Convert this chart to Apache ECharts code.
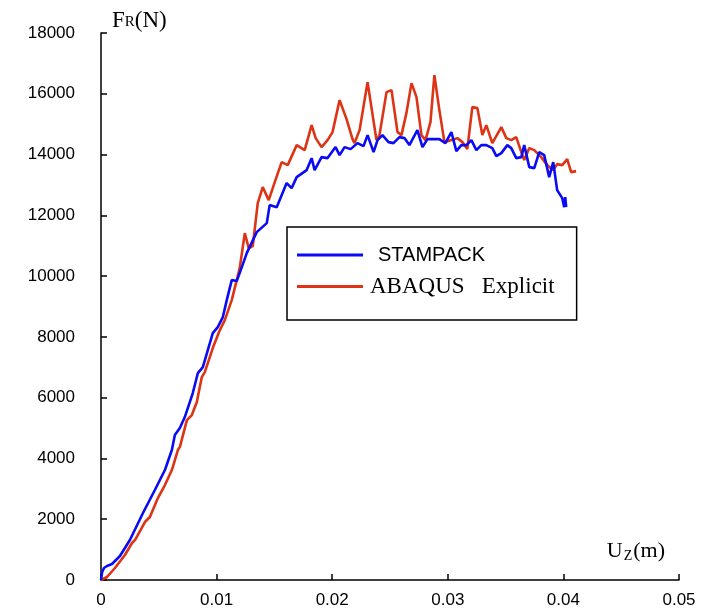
<!DOCTYPE html>
<html>
<head>
<meta charset="utf-8">
<script src="https://cdn.jsdelivr.net/npm/echarts@6/dist/echarts.min.js"></script>
<style>html,body{margin:0;padding:0;background:#fff}#c{width:707px;height:614px}</style>
</head>
<body>
<div id="c"></div>
<script>
// STAMPACK curve (Uz in m, Fr in N)
const stampackX = [0,0.0001,0.00026,0.00052,0.00095,0.00164,0.0025,0.00363,0.00466,0.00553,0.00613,0.00639,0.00682,0.00725,0.00794,0.00838,0.00881,0.00924,0.00967,0.0101,0.01054,0.01088,0.01131,0.01174,0.01218,0.01261,0.01347,0.01434,0.01459,0.0152,0.01606,0.01649,0.01693,0.01779,0.01822,0.01848,0.01908,0.0196,0.02029,0.02064,0.02107,0.02159,0.02219,0.02271,0.02306,0.02358,0.02392,0.02435,0.02487,0.0253,0.02582,0.02625,0.02668,0.02737,0.02781,0.02824,0.02927,0.02979,0.03031,0.03074,0.03117,0.03161,0.03204,0.03247,0.0329,0.03333,0.03385,0.0342,0.03463,0.03515,0.03549,0.03592,0.03636,0.03661,0.03705,0.03748,0.03791,0.03834,0.03877,0.03912,0.03946,0.0399,0.04007,0.04016,0.04024];
const stampackY = [0,263,395,460,526,790,1316,2204,2961,3619,4277,4770,5000,5362,6152,6810,7007,7566,8125,8323,8652,9211,9869,9836,10297,10757,11448,11744,12336,12270,13060,12896,13257,13488,13882,13488,13916,13883,14245,13982,14245,14179,14376,14278,14640,14080,14475,14640,14409,14376,14574,14541,14311,14804,14245,14508,14508,14376,14738,14113,14311,14311,14475,14146,14311,14311,14212,13948,14047,14311,14212,13883,13916,14311,13587,13554,14080,13982,13258,13752,12830,12567,12270,12600,12270];
// ABAQUS Explicit curve
const abaqusX = [0,0.00052,0.00121,0.00207,0.00268,0.00294,0.0038,0.00423,0.00492,0.00553,0.00613,0.00665,0.00682,0.00743,0.00786,0.00829,0.00872,0.00898,0.00967,0.01028,0.01071,0.01131,0.012,0.01244,0.01278,0.01313,0.01356,0.01399,0.01451,0.01503,0.01563,0.01615,0.01693,0.01762,0.01822,0.01857,0.01908,0.0196,0.02003,0.02064,0.02124,0.02176,0.02193,0.02237,0.02306,0.02383,0.02409,0.0247,0.02513,0.02565,0.02599,0.02642,0.02686,0.02729,0.02772,0.02807,0.0285,0.02884,0.02927,0.02971,0.03031,0.03083,0.03126,0.03169,0.03212,0.03256,0.03299,0.03333,0.03385,0.03463,0.03506,0.03549,0.03592,0.03636,0.03661,0.03705,0.03748,0.03808,0.0386,0.03912,0.03946,0.0399,0.04033,0.04067,0.0411];
const abaqusY = [0,99,395,822,1217,1316,1908,2073,2698,3125,3619,4277,4375,5263,5428,5856,6678,6843,7632,8224,8553,9211,10264,11415,10922,10988,12402,12928,12501,13093,13751,13652,14310,14146,14968,14541,14245,14475,14738,15791,15166,14508,14376,14804,16383,14475,14640,16054,16120,14738,14640,15363,16350,15890,14640,14475,15067,16613,15462,14409,14475,14541,14409,14179,15561,15528,14640,14968,14376,14902,14541,14475,14574,14080,13817,14212,14146,13916,13652,13488,13685,13652,13850,13422,13455];
const xTicks = [0, 0.01, 0.02, 0.03, 0.04, 0.05];
const yTicks = [0, 2000, 4000, 6000, 8000, 10000, 12000, 14000, 16000, 18000];

const pairs = (xs, ys) => xs.map((x, i) => [x, ys[i]]);
const chart = echarts.init(document.getElementById('c'), null, {renderer: 'canvas'});
const axisLine = {show: true, lineStyle: {color: '#000', width: 1.5}};
const serif = '"Liberation Serif", "DejaVu Serif", serif';
const sans = '"Liberation Sans", Arial, sans-serif';
chart.setOption({
  animation: false,
  backgroundColor: '#fff',
  grid: {left: 101, right: 28, top: 33, bottom: 34},
  xAxis: {
    type: 'value', min: xTicks[0], max: xTicks[xTicks.length - 1], interval: 0.01,
    axisLine: axisLine,
    axisTick: {show: true, inside: true, length: 6, lineStyle: {color: '#000', width: 1.5}},
    splitLine: {show: false},
    axisLabel: {color: '#000', fontSize: 17, fontFamily: sans, margin: 12, formatter: v => String(+v.toFixed(2))},
    name: '{a|U}{b|Z}{a|(m)}',
    nameLocation: 'end',
    nameGap: -14,
    nameTextStyle: {
      align: 'right', verticalAlign: 'bottom', padding: [0, 0, 17, 0],
      rich: {
        a: {fontFamily: serif, fontSize: 22, color: '#000'},
        b: {fontFamily: serif, fontSize: 14, color: '#000', verticalAlign: 'bottom', padding: [9, 1, 0, 1]}
      }
    }
  },
  yAxis: {
    type: 'value', min: yTicks[0], max: yTicks[yTicks.length - 1], interval: 2000,
    axisLine: axisLine,
    axisTick: {show: true, inside: true, length: 6, lineStyle: {color: '#000', width: 1.5}},
    splitLine: {show: false},
    axisLabel: {color: '#000', fontSize: 17, fontFamily: sans, margin: 26, formatter: v => String(v)},
    name: '{a|F}{b|R}{a|(N)}',
    nameLocation: 'end',
    nameGap: 1,
    nameTextStyle: {
      align: 'left', padding: [0, 0, 0, 11],
      rich: {
        a: {fontFamily: serif, fontSize: 23, color: '#000'},
        b: {fontFamily: serif, fontSize: 15, color: '#000', padding: [4, 0, 0, 0]}
      }
    }
  },
  legend: {
    orient: 'vertical',
    left: 287, top: 227,
    padding: [18, 22, 22, 10],
    itemGap: 10,
    itemWidth: 66, itemHeight: 3,
    icon: 'rect',
    borderColor: '#000', borderWidth: 1.5,
    backgroundColor: '#fff',
    textStyle: {color: '#000', fontSize: 20, padding: [0, 0, 0, 10]},
    data: [
      {name: 'STAMPACK', textStyle: {fontFamily: sans, fontSize: 20, padding: [0, 0, 0, 10]}},
      {name: 'ABAQUS   Explicit', textStyle: {fontFamily: serif, fontSize: 23, padding: [0, 0, 0, 2]}}
    ]
  },
  series: [
    {
      name: 'STAMPACK', type: 'line', data: pairs(stampackX, stampackY),
      symbol: 'none', showSymbol: false,
      lineStyle: {color: '#0a0af5', width: 2.6}, itemStyle: {color: '#0a0af5'}, z: 3
    },
    {
      name: 'ABAQUS   Explicit', type: 'line', data: pairs(abaqusX, abaqusY),
      symbol: 'none', showSymbol: false,
      lineStyle: {color: '#dc3414', width: 2.6}, itemStyle: {color: '#dc3414'}, z: 2
    }
  ]
});
</script>
</body>
</html>
